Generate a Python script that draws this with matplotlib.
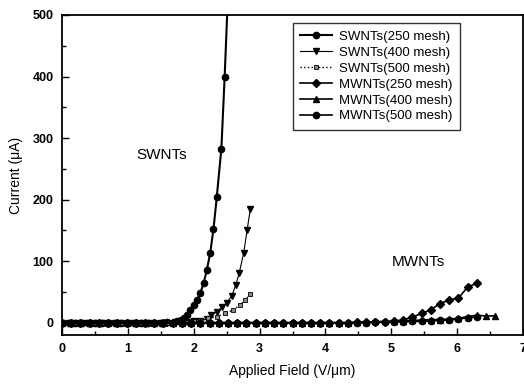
import matplotlib
matplotlib.use("Agg")
import matplotlib.pyplot as plt
from matplotlib.ticker import MultipleLocator

plt.rcParams['font.family'] = ['Liberation Sans', 'DejaVu Sans']

# ---- data ----
sw250_x = [0.0, 0.1, 0.2, 0.3, 0.4, 0.5, 0.6, 0.7, 0.8, 0.9, 1.0, 1.1, 1.2, 1.3, 1.4, 1.5,
           1.6, 1.7, 1.75, 1.8, 1.85, 1.9, 1.95, 2.0, 2.05, 2.1, 2.15, 2.2, 2.25, 2.3,
           2.35, 2.42, 2.47, 2.53]
sw250_y = [0, 0, 0, 0, 0, 0, 0, 0, 0, 0, 0, 0, 0, 0, 0, 0,
           0.5, 1, 2, 4, 8, 13, 21, 29, 37, 48, 64, 86, 113, 152,
           204, 283, 400, 560]

sw400_x = [0.0, 0.1, 0.2, 0.3, 0.4, 0.5, 0.6, 0.7, 0.8, 0.9, 1.0, 1.1, 1.2, 1.3, 1.4, 1.5,
           1.6, 1.7, 1.8, 1.9, 2.0, 2.1, 2.2, 2.27, 2.35, 2.43, 2.5, 2.58, 2.64, 2.69,
           2.76, 2.81, 2.86]
sw400_y = [0, 0, 0, 0, 0, 0, 0, 0, 0, 0, 0, 0, 0, 0, 0, 0,
           0, 0, 0.5, 1, 2, 3, 6, 12, 18, 25, 32, 44, 62, 80,
           114, 150, 185]

sw500_x = [0.0, 0.1, 0.2, 0.3, 0.4, 0.5, 0.6, 0.7, 0.8, 0.9, 1.0, 1.1, 1.2, 1.3, 1.4, 1.5,
           1.6, 1.7, 1.8, 1.9, 2.0, 2.1, 2.22, 2.35, 2.48, 2.6, 2.71, 2.78, 2.86]
sw500_y = [0, 0, 0, 0, 0, 0, 0, 0, 0, 0, 0, 0, 0, 0, 0, 0,
           0, 0, 0.5, 1, 2, 4, 7, 10, 15, 21, 29, 37, 46]

mw_x = [0.00, 0.14, 0.28, 0.42, 0.56, 0.70, 0.84, 0.98, 1.12, 1.26, 1.40, 1.54, 1.68, 1.82,
        1.96, 2.10, 2.24, 2.38, 2.52, 2.66, 2.80, 2.94, 3.08, 3.22, 3.36, 3.50, 3.64, 3.78,
        3.92, 4.06, 4.20, 4.34, 4.48, 4.62, 4.76, 4.90, 5.04, 5.18, 5.32, 5.46, 5.60, 5.74,
        5.88, 6.02, 6.16, 6.30]
mw250_y = [0, 0, 0, 0, 0, 0, 0, 0, 0, 0, 0, 0, 0, 0,
           0, 0, 0, 0, 0, 0, 0, 0, 0, 0, 0, 0, 0, 0,
           0, 0, 0, 0, 0.5, 1, 1, 1.5, 2, 5, 9, 15, 21, 31,
           37, 40, 58, 64]

mw400_x = [0.00, 0.14, 0.28, 0.42, 0.56, 0.70, 0.84, 0.98, 1.12, 1.26, 1.40, 1.54, 1.68, 1.82,
           1.96, 2.10, 2.24, 2.38, 2.52, 2.66, 2.80, 2.94, 3.08, 3.22, 3.36, 3.50, 3.64, 3.78,
           3.92, 4.06, 4.20, 4.34, 4.48, 4.62, 4.76, 4.90, 5.04, 5.18, 5.32, 5.46, 5.60, 5.74,
           5.88, 6.02, 6.16, 6.30, 6.44, 6.58]
mw400_y = [0, 0, 0, 0, 0, 0, 0, 0, 0, 0, 0, 0, 0, 0,
           0, 0, 0, 0, 0, 0, 0, 0, 0, 0, 0, 0, 0, 0,
           0, 0, 0, 0, 1, 1, 2, 2, 3, 3, 4, 4, 5, 5,
           6, 7, 10, 12, 11, 11]

mw500_y = [0, 0, 0, 0, 0, 0, 0, 0, 0, 0, 0, 0, 0, 0,
           0, 0, 0, 0, 0, 0, 0, 0, 0, 0, 0, 0, 0, 0,
           0, 0, 0, 0, 0, 0, 0.5, 1, 1, 1.5, 2, 2, 3, 4,
           4, 6, 8, 9]

labels = ["SWNTs(250 mesh)", "SWNTs(400 mesh)", "SWNTs(500 mesh)",
          "MWNTs(250 mesh)", "MWNTs(400 mesh)", "MWNTs(500 mesh)"]
x_ticks = [0, 1, 2, 3, 4, 5, 6, 7]
y_ticks = [0, 100, 200, 300, 400, 500]

# ---- figure ----
fig = plt.figure(figsize=(5.24, 3.89), dpi=100)
ax = fig.add_axes([62/524, 1-335/389, 461/524, 320/389])

k = 'black'
ax.plot(sw250_x, sw250_y, '-', color=k, lw=1.5, marker='o', ms=4.5, label=labels[0])
ax.plot(sw400_x, sw400_y, '-', color=k, lw=0.8, marker='v', ms=4, label=labels[1])
ax.plot(sw500_x, sw500_y, ':', color=k, lw=1.0, marker='s', ms=3.5, mfc='#888888',
        mec=k, mew=0.6, label=labels[2])
ax.plot(mw_x, mw250_y, '-', color=k, lw=1.2, marker='D', ms=4, label=labels[3])
ax.plot(mw400_x, mw400_y, '-', color=k, lw=1.2, marker='^', ms=4.5, label=labels[4])
ax.plot(mw_x, mw500_y, '-', color=k, lw=1.2, marker='o', ms=4.5, label=labels[5])

ax.set_xlim(0, 7)
ax.set_ylim(-20, 500)
ax.set_xticks(x_ticks)
ax.set_yticks(y_ticks)
ax.xaxis.set_minor_locator(MultipleLocator(0.5))
ax.yaxis.set_minor_locator(MultipleLocator(50))
ax.tick_params(which='both', direction='in', top=False, right=False, width=1.0)
ax.tick_params(which='major', length=5, labelsize=9, pad=6)
ax.tick_params(which='minor', length=3)
for lab in ax.get_xticklabels() + ax.get_yticklabels():
    lab.set_fontweight('bold')
for s in ax.spines.values():
    s.set_linewidth(1.3)

ax.set_xlabel("Applied Field (V/\u03bcm)", fontsize=10, labelpad=6)
ax.set_ylabel("Current (\u03bcA)", fontsize=10, labelpad=7)

ax.text(1.13, 272, "SWNTs", fontsize=11, va='center', ha='left')
ax.text(5.0, 98, "MWNTs", fontsize=11, va='center', ha='left')

leg = ax.legend(loc='upper left', bbox_to_anchor=(0.50, 0.976), borderaxespad=0,
                fontsize=9.5, frameon=True, fancybox=False, edgecolor='black',
                handlelength=2.4, handletextpad=0.5, labelspacing=0.28, borderpad=0.6)
leg.get_frame().set_linewidth(1.0)

fig.savefig("out.png", dpi=100)
